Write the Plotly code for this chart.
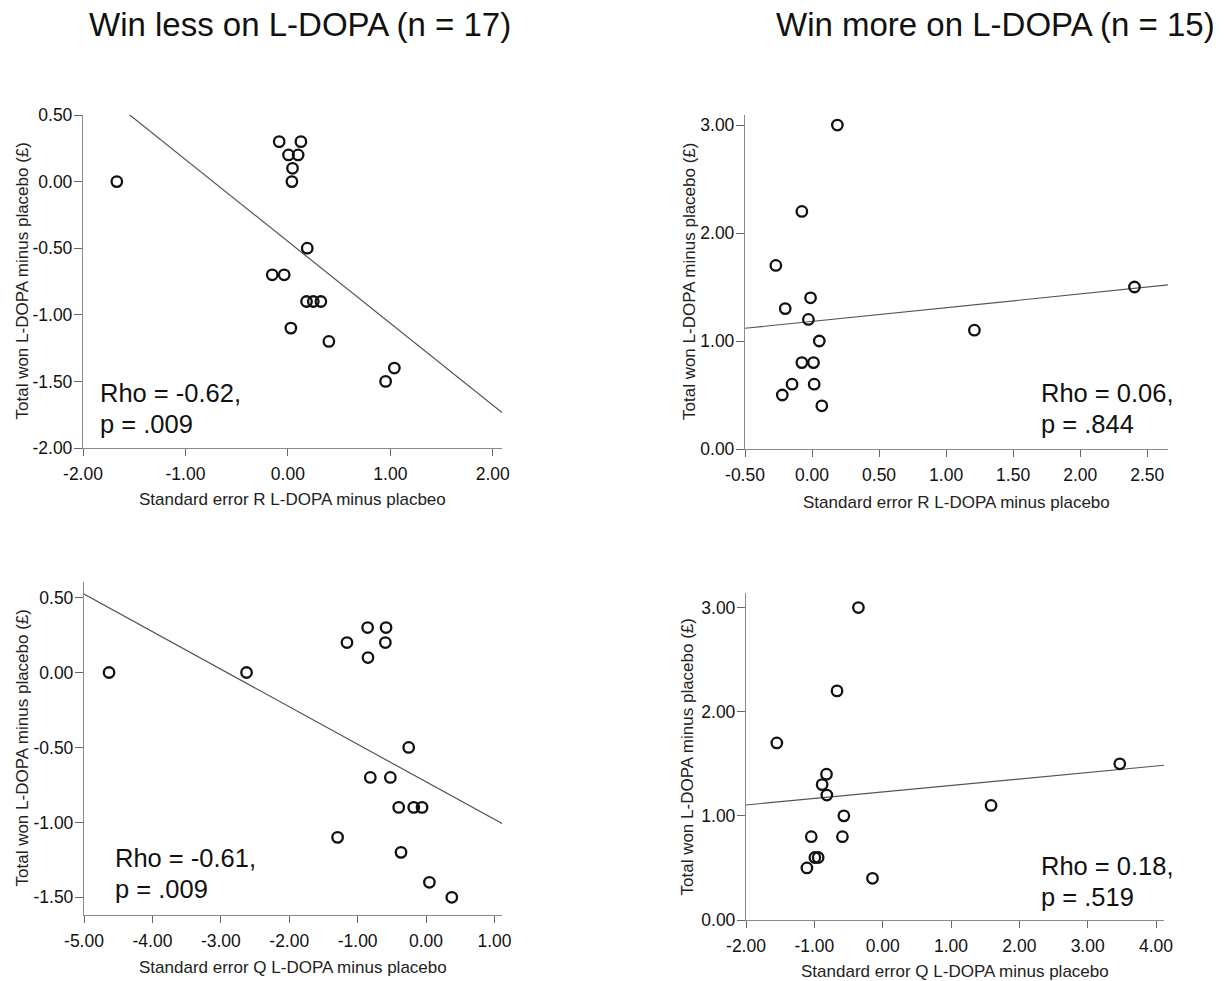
import numpy as np
import plotly.graph_objects as go

W, H = 1229, 981

# ---------------- DATA ----------------
titles = ["Win less on L-DOPA (n = 17)", "Win more on L-DOPA (n = 15)"]
y_title = "Total won L-DOPA minus placebo (£)"
x_titles = [
    "Standard error R L-DOPA minus placbeo",
    "Standard error R L-DOPA minus placebo",
    "Standard error Q L-DOPA minus placebo",
    "Standard error Q L-DOPA minus placebo",
]
stats = [("Rho = -0.62,", "p = .009"), ("Rho = 0.06,", "p = .844"),
         ("Rho = -0.61,", "p = .009"), ("Rho = 0.18,", "p = .519")]

# Panel 1: win less, SE of R
p1_x = [-1.67, -0.085, 0.127, 0.006, 0.10, 0.045, 0.039, 0.189, -0.153, -0.036,
        0.182, 0.248, 0.322, 0.029, 0.40, 0.954, 1.039]
p1_y = [0.0, 0.3, 0.3, 0.2, 0.2, 0.1, 0.0, -0.5, -0.7, -0.7,
        -0.9, -0.9, -0.9, -1.1, -1.2, -1.5, -1.4]
# Panel 2: win more, SE of R
p2_x = [0.189, -0.076, -0.270, -0.011, -0.200, -0.027, 1.211, 0.054, -0.076, 0.011,
        -0.149, 0.016, -0.222, 0.073, 2.405]
p2_y = [3.0, 2.2, 1.7, 1.4, 1.3, 1.2, 1.1, 1.0, 0.8, 0.8,
        0.6, 0.6, 0.5, 0.4, 1.5]
# Panel 3: win less, SE of Q
p3_x = [-4.634, -2.624, -0.854, -0.585, -1.156, -0.595, -0.849, -0.254, -0.815, -0.522,
        -0.40, -0.18, -0.059, -1.293, -0.366, 0.049, 0.376]
p3_y = [0.0, 0.0, 0.3, 0.3, 0.2, 0.2, 0.1, -0.5, -0.7, -0.7,
        -0.9, -0.9, -0.9, -1.1, -1.2, -1.4, -1.5]
# Panel 4: win more, SE of Q
p4_x = [-0.355, -0.668, -1.549, -0.822, -0.886, -0.817, 1.586, -0.568, -1.045, -0.589,
        -0.992, -0.944, -1.109, -0.149, 3.47]
p4_y = [3.0, 2.2, 1.7, 1.4, 1.3, 1.2, 1.1, 1.0, 0.8, 0.8,
        0.6, 0.6, 0.5, 0.4, 1.5]

x_ticks = [[-2, -1, 0, 1, 2], [-0.5, 0, 0.5, 1, 1.5, 2, 2.5],
           [-5, -4, -3, -2, -1, 0, 1], [-2, -1, 0, 1, 2, 3, 4]]
y_ticks = [[-2, -1.5, -1, -0.5, 0, 0.5], [0, 1, 2, 3],
           [-1.5, -1, -0.5, 0, 0.5], [0, 1, 2, 3]]
x_ranges = [[-2.0, 2.09], [-0.5, 2.655], [-5.0, 1.11], [-2.0, 4.117]]
y_ranges = [[-2.0, 0.5], [0.0, 3.093], [-1.618, 0.604], [0.0, 3.14]]

# ---------------- LAYOUT (pixel boxes) ----------------
boxes = [  # x0, x1, ytop, ybottom in pixels
    (83, 502, 115, 448),
    (745, 1168, 115, 449),
    (84, 502, 582, 915),
    (746, 1164, 593, 920),
]
xs = [p1_x, p2_x, p3_x, p4_x]
ys = [p1_y, p2_y, p3_y, p4_y]

def px(x):
    return x / W

def py(y):
    return 1 - y / H

fig = go.Figure()
axis_col = "#8a8a8a"
font_fam = "Liberation Sans, Arial, sans-serif"
annotations = []

for i in range(4):
    n = "" if i == 0 else str(i + 1)
    x0, x1, yt, yb = boxes[i]
    xa = dict(domain=[px(x0), px(x1)], range=x_ranges[i], anchor="y" + n,
              automargin=False,
              showgrid=False, zeroline=False, showline=True, linecolor=axis_col,
              linewidth=1.3, ticks="outside", ticklen=7, tickcolor="#666",
              tickwidth=1.3, tickvals=x_ticks[i],
              ticktext=[f"{v:.2f}" for v in x_ticks[i]],
              tickfont=dict(size=17.5, color="#111", family=font_fam),
              ticklabelstandoff=3)
    ya = dict(domain=[py(yb), py(yt)], range=y_ranges[i], anchor="x" + n,
              automargin=False,
              showgrid=False, zeroline=False, showline=True, linecolor=axis_col,
              linewidth=1.3, ticks="outside", ticklen=8, tickcolor="#666",
              tickwidth=1.3, tickvals=y_ticks[i],
              ticktext=[f"{v:.2f}" for v in y_ticks[i]],
              tickfont=dict(size=17.5, color="#111", family=font_fam),
              ticklabelstandoff=-2)
    fig.update_layout(**{"xaxis" + n: xa, "yaxis" + n: ya})

    # fit line (least squares from the data)
    slope, icpt = np.polyfit(xs[i], ys[i], 1)
    lx = np.array(x_ranges[i])
    fig.add_trace(go.Scatter(x=lx, y=slope * lx + icpt, mode="lines",
                             line=dict(color="#555", width=1.2),
                             xaxis="x" + n, yaxis="y" + n, hoverinfo="skip",
                             showlegend=False, cliponaxis=True))
    fig.add_trace(go.Scatter(x=xs[i], y=ys[i], mode="markers",
                             marker=dict(symbol="circle-open", size=10.5, color="#111",
                                         line=dict(width=2.3, color="#111")),
                             xaxis="x" + n, yaxis="y" + n, showlegend=False))

    # axis titles
    annotations.append(dict(text=x_titles[i], xref="paper", yref="paper",
                            x=px((x0 + x1) / 2), y=py([500, 502, 967, 971][i]),
                            xanchor="center", yanchor="middle", showarrow=False,
                            font=dict(size=17, color="#222", family=font_fam)))
    annotations.append(dict(text=y_title, xref="paper", yref="paper",
                            x=px([22, 689, 22, 687][i]), y=py((yt + yb) / 2),
                            xanchor="center", yanchor="middle", showarrow=False,
                            textangle=-90,
                            font=dict(size=17, color="#222", family=font_fam)))
    # stats text
    lefts = [98, 1039, 113, 1039]
    base1 = [402, 402, 867, 875]
    for k, txt in enumerate(stats[i]):
        annotations.append(dict(text=txt, xref="paper", yref="paper",
                                x=px(lefts[i]), y=py(base1[i] + 31 * k - 9),
                                xanchor="left", yanchor="middle", showarrow=False,
                                font=dict(size=25.5, color="#111", family=font_fam)))

# panel titles
for t, cx in zip(titles, [300, 995]):
    annotations.append(dict(text=t, xref="paper", yref="paper", x=px(cx), y=py(25),
                            xanchor="center", yanchor="middle", showarrow=False,
                            font=dict(size=33, color="#111", family=font_fam)))

fig.update_layout(width=W, height=H, autosize=False,
                  margin=dict(l=0, r=0, t=0, b=0, autoexpand=False),
                  paper_bgcolor="white", plot_bgcolor="white",
                  annotations=annotations, showlegend=False)

fig.write_html("out.html")
